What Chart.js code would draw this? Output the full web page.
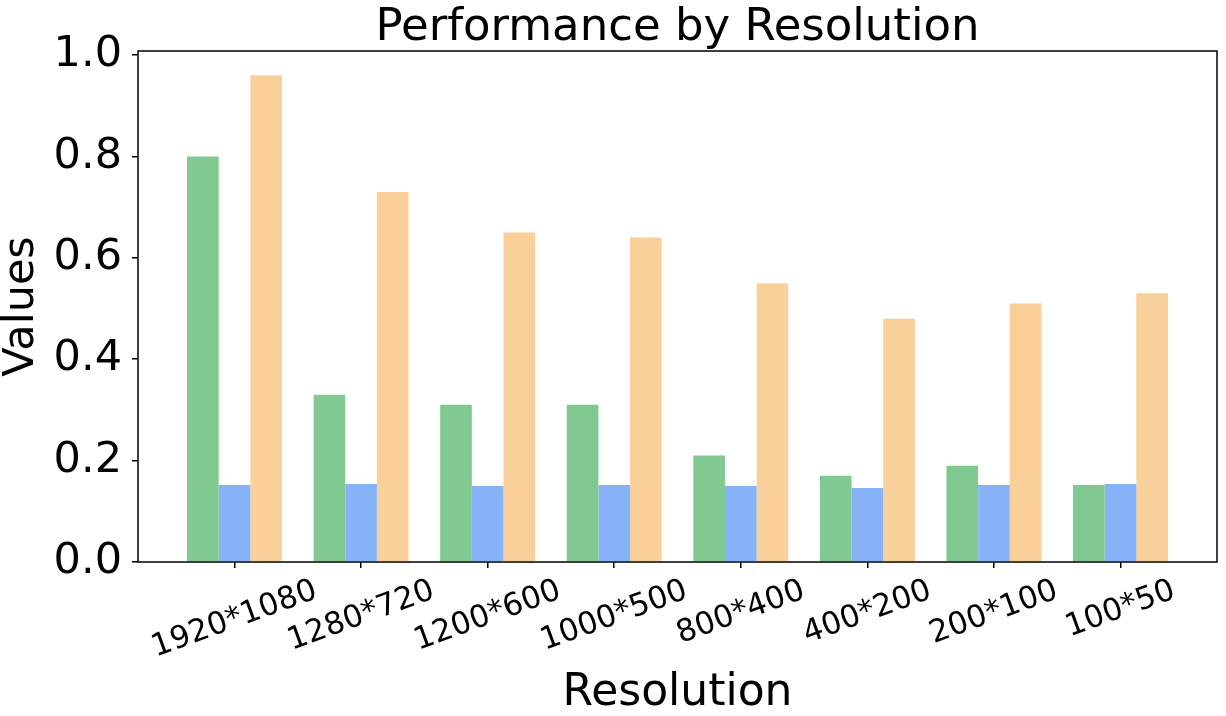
<!DOCTYPE html>
<html>
<head>
<meta charset="utf-8">
<script src="https://cdn.jsdelivr.net/npm/chart.js@4"></script>
<style>
    body { margin: 0; background: #fff; }
    #wrap { width: 1226px; height: 716px; }
</style>
</head>
<body>
<div id="wrap"><canvas id="resChart"></canvas></div>
<script>
const resolutions = ['1920*1080', '1280*720', '1200*600', '1000*500', '800*400', '400*200', '200*100', '100*50'];
const greenVals = [0.80, 0.33, 0.31, 0.31, 0.21, 0.17, 0.19, 0.152];
const blueVals = [0.152, 0.154, 0.150, 0.152, 0.150, 0.146, 0.152, 0.154];
const orangeVals = [0.96, 0.73, 0.65, 0.64, 0.55, 0.48, 0.51, 0.53];
const yTicks = [0, 0.2, 0.4, 0.6, 0.8, 1.0];
const chartTitle = 'Performance by Resolution';

const FONT = 'DejaVu Sans';

function toPoints(vals) {
    return vals.map((v, i) => ({x: i, y: v}));
}

// frame, title centred over the axes, rotated + centred x labels (matplotlib style)
const framePlugin = {
    id: 'frame',
    afterDatasetsDraw(chart) {
        const a = chart.chartArea;
        const c = chart.ctx;
        c.save();
        c.strokeStyle = '#000';
        c.lineWidth = 1.5;
        c.strokeRect(a.left, a.top, a.right - a.left, a.bottom - a.top);
        c.restore();
    },
    afterDraw(chart) {
        const c = chart.ctx;
        const a = chart.chartArea;
        const xs = chart.scales.x;

        c.save();
        c.fillStyle = '#000';
        c.font = '45px "' + FONT + '"';
        c.textAlign = 'center';
        c.textBaseline = 'alphabetic';
        c.fillText(chartTitle, (a.left + a.right) / 2, 40);

        const size = 31;
        const ang = 20 * Math.PI / 180;
        c.font = size + 'px "' + FONT + '"';
        c.textBaseline = 'middle';
        resolutions.forEach((lab, i) => {
            const w = c.measureText(lab).width;
            const h = size * 1.16;
            const H = w * Math.sin(ang) + h * Math.cos(ang);
            const cx = xs.getPixelForValue(i);
            const cy = a.bottom + 11 + H / 2;
            c.save();
            c.translate(cx, cy);
            c.rotate(-ang);
            c.fillText(lab, 0, 0);
            c.restore();
        });
        c.restore();
    }
};

const ctx = document.getElementById('resChart');

new Chart(ctx, {
    type: 'bar',
    data: {
        datasets: [{
            data: toPoints(greenVals),
            backgroundColor: 'rgb(128, 201, 145)',
            borderWidth: 0
        }, {
            data: toPoints(blueVals),
            backgroundColor: 'rgb(134, 179, 247)',
            borderWidth: 0
        }, {
            data: toPoints(orangeVals),
            backgroundColor: 'rgb(249, 208, 154)',
            borderWidth: 0
        }]
    },
    plugins: [framePlugin],
    options: {
        responsive: true,
        maintainAspectRatio: false,
        devicePixelRatio: 1,
        animation: false,
        categoryPercentage: 0.75,
        barPercentage: 1.0,
        layout: {
            padding: {left: 0, right: 9, top: 51, bottom: 0}
        },
        plugins: {
            legend: {
                display: false
            },
            tooltip: {
                enabled: false
            },
            title: {
                display: false
            }
        },
        scales: {
            x: {
                type: 'linear',
                offset: false,
                min: -0.7625,
                max: 7.7625,
                afterBuildTicks: (scale) => {
                    scale.ticks = resolutions.map((r, i) => ({value: i}));
                },
                afterFit: (scale) => {
                    scale.height = 154;
                },
                ticks: {
                    display: false
                },
                grid: {
                    display: true,
                    offset: false,
                    drawOnChartArea: false,
                    drawTicks: true,
                    tickLength: 6,
                    color: '#000',
                    lineWidth: 1.5
                },
                border: {
                    display: false
                },
                title: {
                    display: true,
                    text: 'Resolution',
                    color: '#000',
                    font: {family: FONT, size: 44, lineHeight: 1.0},
                    padding: {top: 0, bottom: 0}
                }
            },
            y: {
                min: 0,
                max: 1.008,
                afterBuildTicks: (scale) => {
                    scale.ticks = yTicks.map(v => ({value: v}));
                },
                afterFit: (scale) => {
                    scale.width = 138;
                },
                ticks: {
                    color: '#000',
                    padding: 10,
                    font: {family: FONT, size: 43},
                    callback: (v) => Number(v).toFixed(1)
                },
                grid: {
                    display: true,
                    drawOnChartArea: false,
                    drawTicks: true,
                    tickLength: 6,
                    color: '#000',
                    lineWidth: 1.5
                },
                border: {
                    display: false
                },
                title: {
                    display: true,
                    text: 'Values',
                    color: '#000',
                    font: {family: FONT, size: 43, lineHeight: 1.0},
                    padding: {top: 0, bottom: 0}
                }
            }
        }
    }
});
</script>
</body>
</html>
